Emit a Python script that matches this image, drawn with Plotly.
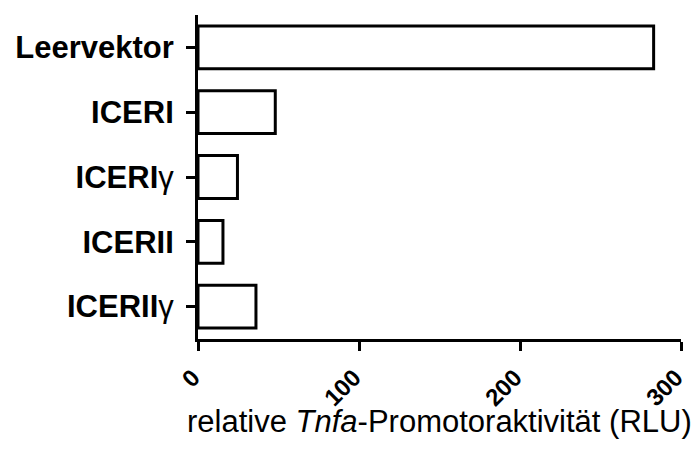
import plotly.graph_objects as go

categories = ["Leervektor", "ICERI", "ICERIγ", "ICERII", "ICERIIγ"]
tick_labels = ["<b>Leervektor</b>", "<b>ICERI</b>", "<b>ICERI</b>γ", "<b>ICERII</b>", "<b>ICERII</b>γ"]
values = [283, 48, 24.5, 15.5, 36]
x_ticks = [0, 100, 200, 300]

fig = go.Figure(go.Bar(
    y=categories, x=values, orientation="h",
    width=0.66,
    marker=dict(color="white", line=dict(color="black", width=3)),
))

fig.update_layout(
    width=693, height=450,
    margin=dict(l=198, r=12, t=15, b=111),
    plot_bgcolor="white", paper_bgcolor="white",
    font=dict(family="Liberation Sans, Arial, sans-serif", color="black"),
    showlegend=False,
)

fig.update_yaxes(
    categoryorder="array", categoryarray=categories,
    range=[4.5, -0.5],
    tickmode="array", tickvals=categories, ticktext=tick_labels,
    tickfont=dict(size=31, color="black"),
    showline=True, linewidth=3, linecolor="black",
    ticks="outside", ticklen=9, tickwidth=3, tickcolor="black",
    ticklabelstandoff=6,
    showgrid=False, zeroline=False, automargin=False,
)

fig.update_xaxes(
    range=[0, 300],
    tickmode="array", tickvals=x_ticks, ticktext=[f"<b>{v}</b>" for v in x_ticks],
    tickangle=-45,
    tickfont=dict(size=24, color="black"),
    ticklabeloverflow="allow",
    ticklabelshift=-5,
    ticklabelstandoff=3,
    showline=True, linewidth=3, linecolor="black",
    ticks="outside", ticklen=9, tickwidth=3, tickcolor="black",
    showgrid=False, zeroline=False, automargin=False,
)

fig.add_annotation(
    text="relative <i>Tnfa</i>-Promotoraktivität (RLU)",
    xref="paper", yref="paper", x=0.5, y=-0.255,
    xanchor="center", yanchor="middle", showarrow=False,
    font=dict(size=31, color="black"),
)

fig.write_html(
    "out.html",
    config={"displayModeBar": False},
    post_script="document.body.style.margin='0';document.body.style.overflow='hidden';",
)
